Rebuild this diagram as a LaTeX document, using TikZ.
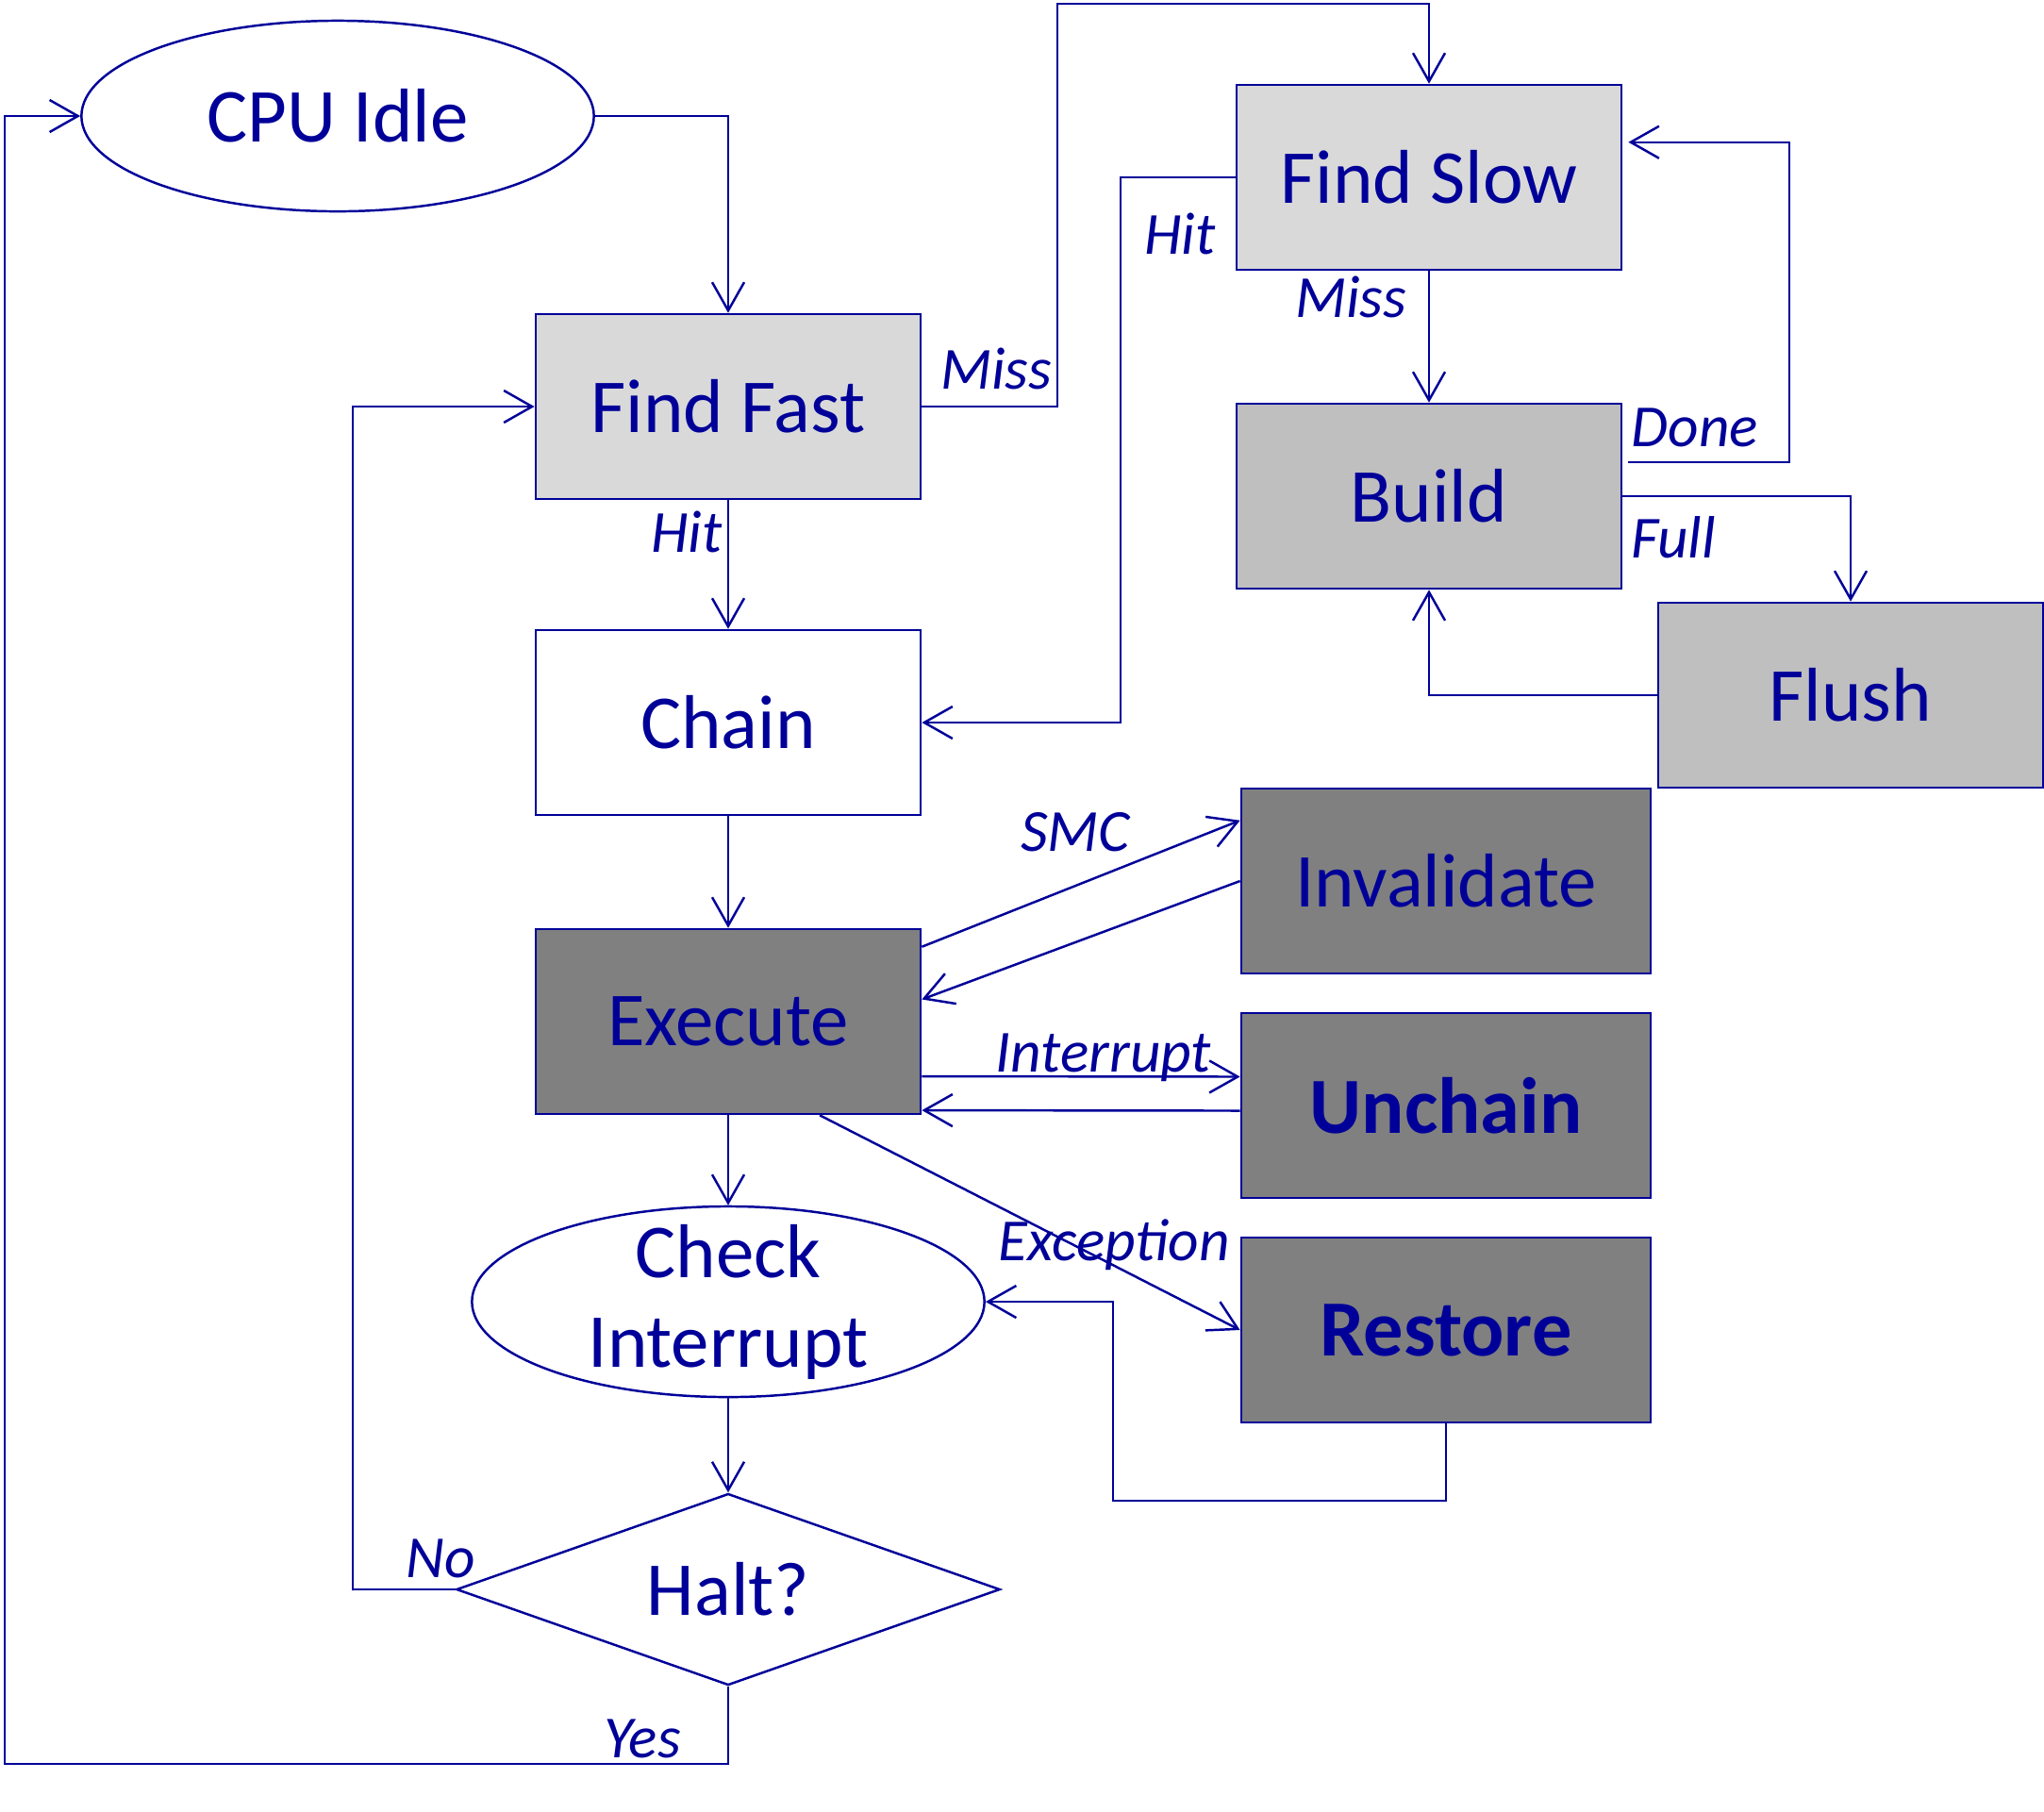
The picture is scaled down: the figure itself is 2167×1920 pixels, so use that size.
\documentclass[tikz,border=0pt]{standalone}
\usepackage{fontspec}
\setmainfont{Carlito}
\usepackage{tikz}
\usetikzlibrary{shapes.geometric}
\usetikzlibrary{arrows.meta}
\usepackage{xcolor}

\definecolor{ink}{RGB}{0,0,153}
\definecolor{lightbox}{RGB}{217,217,217}
\definecolor{midbox}{RGB}{191,191,191}
\definecolor{darkbox}{RGB}{128,128,128}

\begin{document}
\begin{tikzpicture}[x=0.01cm, y=-0.01cm,
    box/.style={draw=ink, line width=0.7pt, text=ink, inner sep=0pt,
        minimum width=4.08cm, minimum height=1.96cm, font=\fontsize{23}{28}\selectfont},
    widebox/.style={box, minimum width=4.34cm},
    comic/.style={font=\fontsize{24}{28}\selectfont\bfseries},
    oval/.style={ellipse, draw=ink, line width=0.7pt, text=ink, inner sep=0pt, inner ysep=-0.2cm,
        minimum width=5.43cm, minimum height=2.02cm, align=center, font=\fontsize{23}{27}\selectfont},
    lbl/.style={text=ink, anchor=base, font=\fontsize{18}{20}\selectfont\itshape},
    arr/.style={draw=ink, line width=0.7pt, -{Straight Barb[length=0.3cm, width=0.34cm]}},
    wire/.style={draw=ink, line width=0.7pt}]

    \useasboundingbox (0,0) rectangle (2167,1920);

    \node[oval] (idle) at (358,123) {CPU Idle};
    \node[box, fill=lightbox] (fast) at (772,431) {Find Fast};
    \node[box, fill=white] (chain) at (772,766) {Chain};
    \node[box, fill=darkbox] (exec) at (772,1083) {Execute};
    \node[oval] (chk) at (772,1380) {Check\\Interrupt};
    \node[diamond, draw=ink, line width=0.7pt, text=ink, inner sep=0pt, aspect=2.8,
        minimum width=5.76cm, minimum height=2.03cm, font=\fontsize{23}{28}\selectfont] (halt) at (772,1685) {Halt?};

    \node[box, fill=lightbox] (slow) at (1515,188) {Find Slow};
    \node[box, fill=midbox] (build) at (1515,526) {Build};
    \node[box, fill=midbox] (flush) at (1962,737) {Flush};
    \node[widebox, fill=darkbox] (inval) at (1533,934) {Invalidate};
    \node[widebox, fill=darkbox, comic] (unchain) at (1533,1172) {Unchain};
    \node[widebox, fill=darkbox, comic] (restore) at (1533,1410) {Restore};

    \coordinate (missTurn) at (1121,4);
    \coordinate (hitTurn) at (1188,766);
    \coordinate (doneTurn) at (1897,300);
    \coordinate (restTurn) at (1180,1591);
    \coordinate (noTurn) at (374,1686);
    \coordinate (yesTurn) at (5,1870);

    \draw[arr] (idle.east) -| (fast.north);
    \draw[arr] (fast.east) -| (missTurn) -| (slow.north);
    \draw[arr] (fast.south) -- (chain.north);
    \draw[arr] (slow.west) -| (hitTurn) -- (chain.east);
    \draw[arr] (slow.south) -- (build.north);
    \draw[arr] ([xshift=0.06cm,yshift=-0.63cm]build.north east) -| (doneTurn)
        |- ([xshift=0.06cm,yshift=-0.62cm]slow.north east);
    \draw[arr] (build.east) -| (flush.north);
    \draw[arr] (flush.west) -| (build.south);
    \draw[arr] (chain.south) -- (exec.north);

    \draw[arr] ([yshift=-0.2cm]exec.north east) -- ([yshift=-0.35cm]inval.north west);
    \draw[arr] (inval.west) -- ([yshift=0.235cm]exec.east);
    \draw[arr] ([yshift=-0.58cm]exec.east) -- ([yshift=0.305cm]unchain.west);
    \draw[arr] ([yshift=-0.055cm]unchain.west) -- ([yshift=-0.94cm]exec.east);
    \draw[arr] ([xshift=0.97cm]exec.south) -- (restore.west);
    \draw[arr] (restore.south) |- (restTurn) |- (chk.east);

    \draw[arr] (exec.south) -- (chk.north);
    \draw[arr] (chk.south) -- (halt.north);
    \draw[arr] (halt.west) -| (noTurn) |- (fast.west);
    \draw[arr] (halt.south) |- (yesTurn) |- (idle.west);

    \node[lbl] (lmissA) at (1056,412) {Miss};
    \node[lbl] (lhitA) at (728,585) {Hit};
    \node[lbl] (lhitB) at (1251,269) {Hit};
    \node[lbl] (lmissB) at (1432,336) {Miss};
    \node[lbl] (ldone) at (1797,473) {Done};
    \node[lbl] (lfull) at (1774,591) {Full};
    \node[lbl] (lsmc) at (1140,902) {SMC};
    \node[lbl] (lint) at (1170,1136) {Interrupt};
    \node[lbl] (lexc) at (1181,1336) {Exception};
    \node[lbl] (lno) at (467,1672) {No};
    \node[lbl] (lyes) at (681,1863) {Yes};

\end{tikzpicture}
\end{document}
